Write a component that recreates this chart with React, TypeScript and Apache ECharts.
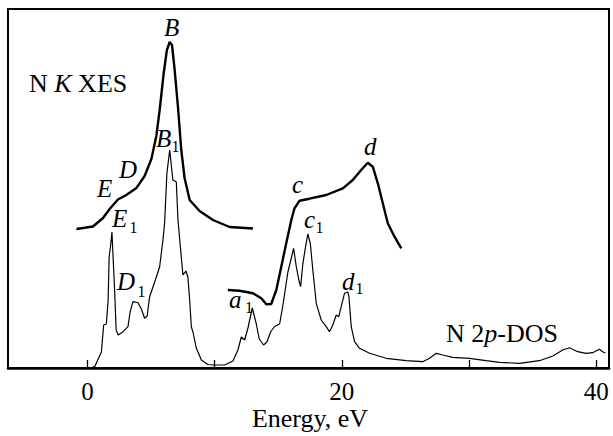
import React, { useEffect, useRef } from "react";
import * as echarts from "echarts";

// N K XES, lower-energy segment [energy eV, intensity]
const xesLow: number[][] = [
  [-0.86, 139], [0.44, 141.5], [1.23, 150], [1.75, 159], [2.4, 168.5], [3.06, 173],
  [3.85, 180], [4.5, 192], [5.03, 209], [5.42, 232], [5.68, 258], [6.0, 295],
  [6.25, 318], [6.47, 326], [6.65, 323], [6.86, 298], [7.12, 261], [7.38, 218],
  [7.64, 190], [8.04, 168], [8.82, 157], [9.87, 148], [11.18, 141], [13.01, 139.5],
];

// N K XES, higher-energy segment
const xesHigh: number[][] = [
  [11.04, 78], [11.96, 77.3], [13.01, 74.7], [13.67, 69.7], [14.06, 63.7], [14.45, 64],
  [14.85, 78], [15.24, 101.3], [15.63, 124.7], [16.03, 148], [16.28, 159.7], [16.68, 167.3],
  [17.46, 169.3], [18.77, 173], [20.08, 179.7], [20.86, 188], [21.52, 198], [22.04, 205.3],
  [22.43, 201.3], [22.83, 184.7], [23.22, 164.7], [23.61, 144.7], [24.14, 131.3], [24.67, 119.7],
];

// N 2p-DOS
const dos: number[][] = [
  [0.18, 0], [0.57, 1.3], [1.1, 16], [1.28, 43], [1.49, 44], [1.63, 68], [1.71, 111],
  [1.83, 123], [1.93, 136], [2.03, 108], [2.14, 78], [2.26, 38], [2.42, 33], [2.8, 36.3],
  [3.19, 41.3], [3.36, 56], [3.58, 66.3], [3.97, 65.5], [4.24, 59], [4.5, 49.7], [4.7, 52],
  [4.89, 71.3], [5.29, 86], [5.68, 101.3], [5.94, 128], [6.07, 144.7], [6.25, 194.7],
  [6.47, 218], [6.72, 188], [6.99, 186], [7.12, 148], [7.33, 118], [7.51, 93], [7.75, 97],
  [7.9, 91], [8.04, 68], [8.17, 41.3], [8.3, 36], [8.56, 20], [8.96, 8], [9.47, 3.5],
  [9.87, 3], [10.79, 3], [11.44, 7], [11.83, 18], [12.1, 31], [12.36, 28], [12.62, 40],
  [12.96, 60], [13.26, 45], [13.51, 29], [13.85, 23], [14.11, 26], [14.4, 36], [14.71, 41.5],
  [15.11, 44], [15.37, 63], [15.76, 96], [16.03, 110], [16.21, 119.7], [16.42, 101.3],
  [16.62, 88], [16.76, 81.3], [16.94, 104.7], [17.15, 121.3], [17.33, 134], [17.52, 124.7],
  [17.72, 98], [17.99, 64.7], [18.38, 48], [18.77, 41.3], [19.03, 36.3], [19.29, 43],
  [19.56, 53], [19.76, 51.3], [19.95, 61.3], [20.21, 74.7], [20.47, 76], [20.56, 71.3],
  [20.74, 41.3], [21.0, 26.3], [21.39, 19.7], [22.18, 14.7], [23.49, 9.7], [25.06, 7.3],
  [26.36, 6.3], [26.89, 9.7], [27.42, 14.7], [27.93, 13], [28.72, 10.7], [30.03, 9.7],
  [31.34, 7.3], [32.39, 5.7], [33.96, 4.7], [35.53, 7.3], [36.58, 12], [37.36, 18],
  [37.89, 20.3], [38.54, 16.3], [39.2, 14.7], [39.72, 15.3], [40.24, 18.7], [40.5, 16.3],
  [40.72, 15],
];

const tickValues = [0, 10, 20, 30, 40];
const labelValues = [0, 20, 40];

const FONT = "'Liberation Serif', serif";
const BIG = 26;
const LET = 25;
const SUB = 16;

// place text by its baseline
function txt(x: number, baseline: number, text: string, size: number, italic: boolean) {
  return {
    type: "text",
    x,
    y: baseline - 0.3375 * size,
    style: {
      text,
      fontSize: size,
      fontFamily: FONT,
      fontStyle: italic ? "italic" : "normal",
      fill: "#000",
      align: "left",
      verticalAlign: "middle",
    },
  };
}

function richTxt(x: number, baseline: number, text: string) {
  return {
    type: "text",
    x,
    y: baseline - 0.3375 * BIG,
    style: {
      text,
      fill: "#000",
      align: "left",
      verticalAlign: "middle",
      rich: {
        n: { fontSize: BIG, fontFamily: FONT, fill: "#000" },
        i: { fontSize: BIG, fontFamily: FONT, fontStyle: "italic", fill: "#000" },
      },
    },
  };
}

export default function App() {
  const ref = useRef<HTMLDivElement>(null);
  useEffect(() => {
    if (!ref.current) return;
    const chart = echarts.init(ref.current, undefined, { renderer: "svg" });
    const lineCommon = {
      type: "line",
      showSymbol: false,
      symbol: "none",
      smooth: false,
      silent: true,
    };
    chart.setOption({
      animation: false,
      backgroundColor: "#fff",
      grid: {
        left: 8,
        right: 4,
        top: 9,
        bottom: 68,
        show: true,
        borderColor: "#000",
        borderWidth: 2,
        backgroundColor: "transparent",
      },
      xAxis: {
        type: "value",
        min: -6.24,
        max: 41,
        axisLine: { show: true, lineStyle: { color: "#000", width: 2.5 } },
        axisTick: {
          show: true,
          inside: true,
          length: 8,
          customValues: tickValues,
          lineStyle: { color: "#000", width: 1.3 },
        },
        axisLabel: {
          show: true,
          customValues: labelValues,
          margin: 11,
          color: "#000",
          fontSize: 25,
          fontFamily: FONT,
        },
        splitLine: { show: false },
      },
      yAxis: {
        type: "value",
        min: 0,
        max: 359,
        show: false,
        splitLine: { show: false },
      },
      series: [
        { ...lineCommon, name: "XES low", data: xesLow, lineStyle: { color: "#000", width: 2.4 } },
        { ...lineCommon, name: "XES high", data: xesHigh, lineStyle: { color: "#000", width: 2.4 } },
        { ...lineCommon, name: "DOS", data: dos, lineStyle: { color: "#000", width: 1.2 } },
      ],
      graphic: [
        richTxt(29, 92, "{n|N }{i|K}{n| XES}"),
        richTxt(446, 342, "{n|N 2}{i|p}{n|-DOS}"),
        {
          type: "text",
          x: 310,
          y: 427 - 0.3375 * BIG,
          style: {
            text: "Energy, eV",
            fontSize: BIG,
            fontFamily: FONT,
            fill: "#000",
            align: "center",
            verticalAlign: "middle",
          },
        },
        txt(164, 36, "B", LET, true),
        txt(156, 147, "B", LET, true),
        txt(171.5, 152, "1", SUB, false),
        txt(119, 178, "D", LET, true),
        txt(97, 197, "E", LET, true),
        txt(112, 227, "E", LET, true),
        txt(129.5, 233, "1", SUB, false),
        txt(117, 290, "D", LET, true),
        txt(137.5, 297, "1", SUB, false),
        txt(229, 308, "a", LET, true),
        txt(245, 313, "1", SUB, false),
        txt(292, 193, "c", LET, true),
        txt(304, 228, "c", LET, true),
        txt(315.5, 233, "1", SUB, false),
        txt(364, 155, "d", LET, true),
        txt(342, 290, "d", LET, true),
        txt(355.5, 294, "1", SUB, false),
      ],
    });
    return () => chart.dispose();
  }, []);
  return <div ref={ref} style={{ width: 613, height: 436, position: "fixed", left: 0, top: 0 }} />;
}
